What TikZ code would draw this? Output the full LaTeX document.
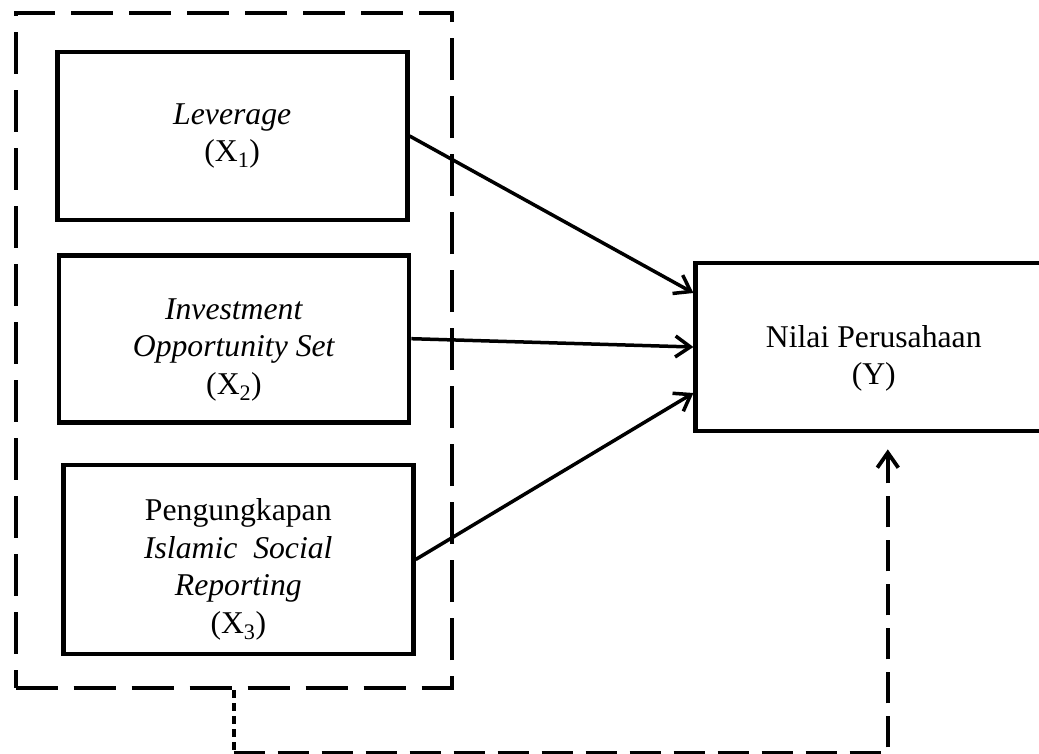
\documentclass[tikz,border=0pt]{standalone}
\usepackage{fontspec}
\setmainfont{Liberation Serif}
\usepackage{tikz}
\usetikzlibrary{positioning,arrows.meta}

\tikzset{
  varbox/.style={draw, line width=4.8pt, minimum width=350pt, inner sep=0pt},
  vartext/.style={align=center, inner sep=0pt, font=\fontsize{31.7}{37.5}\selectfont},
  grpbox/.style={draw, line width=4.2pt, dash pattern=on 42pt off 16pt, minimum width=436pt, minimum height=675pt, inner sep=0pt},
  effect/.style={line width=3.5pt, -{Straight Barb[length=15pt,width=21pt]}},
}

\begin{document}
\begin{tikzpicture}[x=1pt,y=1pt,yscale=-1,xscale=1]
\useasboundingbox (0,0) rectangle (1039,754);

%Dashed group of the X variables
\node [grpbox] (grp) at (233.7,350.6) {};

%Shape: Rectangle
\node [varbox, minimum height=168pt] (lev) at (232.2,136) {};
%Shape: Rectangle
\node [varbox, minimum height=167pt] (ios) at (234,338.7) {};
%Shape: Rectangle
\node [varbox, minimum height=189pt] (isr) at (238.3,559.5) {};
%Shape: Rectangle
\node [varbox, minimum width=356pt, minimum height=168pt] (nilai) at (873.8,347) {};

% Text Node
\node [vartext] (levtext) at (lev.center) {\textit{Leverage}\\(X\textsubscript{1})};
% Text Node
\node [vartext] (iostext) at ([yshift=11pt]ios.center) {\textit{Investment}\\\textit{Opportunity Set}\\(X\textsubscript{2})};
% Text Node
\node [vartext] (isrtext) at ([yshift=10pt]isr.center) {Pengungkapan\\\textit{Islamic\ \ Social}\\\textit{Reporting}\\(X\textsubscript{3})};
% Text Node
\node [vartext] (nilaitext) at ([yshift=11.5pt]nilai.center) {Nilai Perusahaan\\(Y)};

%Straight Lines
\draw [effect] (lev.east) -- ([yshift=-54pt]nilai.west);
\draw [effect] (ios.east) -- (nilai.west);
\draw [effect] (isr.east) -- ([yshift=46pt]nilai.west);

%Dashed connector from the group
\draw [line width=3.8pt, dash pattern=on 8pt off 5pt] (grp.south) -- ++(0,63) coordinate (turn);
\draw [effect, line width=3.8pt, dash pattern=on 31pt off 13pt] (turn) -| ([xshift=14pt,yshift=16pt]nilai.south);

\end{tikzpicture}
\end{document}
